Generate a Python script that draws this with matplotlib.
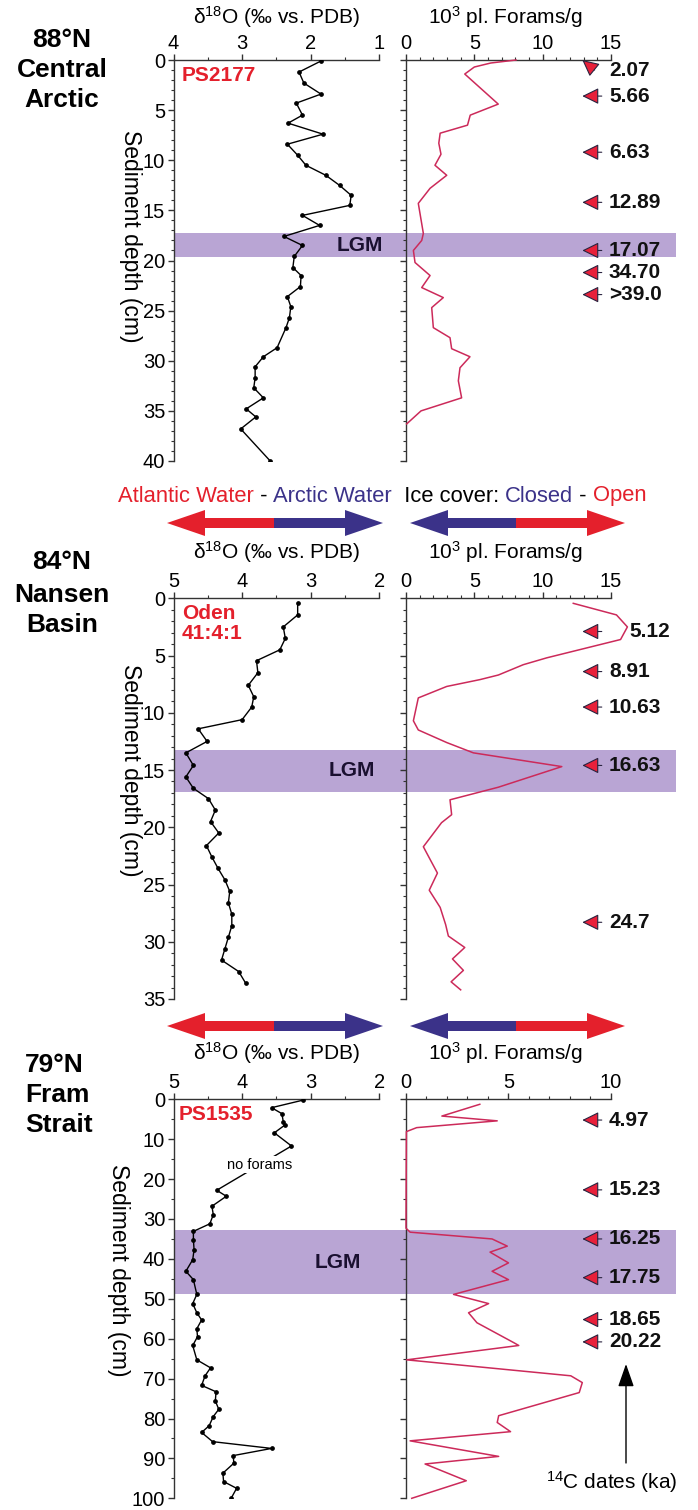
import numpy as np
import matplotlib.pyplot as plt
import matplotlib.transforms as mtransforms
from matplotlib.patches import Polygon, Rectangle
from matplotlib.ticker import MultipleLocator

plt.rcParams['font.family'] = ['Liberation Sans', 'DejaVu Sans']
plt.rcParams['mathtext.fontset'] = 'custom'
plt.rcParams['mathtext.rm'] = 'Liberation Sans'
plt.rcParams['mathtext.it'] = 'Liberation Sans:italic'
plt.rcParams['mathtext.bf'] = 'Liberation Sans:bold'

W, H = 698, 1510

# --- PS2177, 88N Central Arctic ---
ps2177_d18o_depth = [0.1, 1.2, 2.3, 3.4, 4.3, 5.5, 6.3, 7.4, 8.4, 9.5, 10.5, 11.5, 12.5, 13.5, 14.5,
                     15.5, 16.5, 17.6, 18.5, 19.6, 20.7, 21.5, 22.6, 23.6, 24.6, 25.7, 26.7, 28.7,
                     29.6, 30.6, 31.7, 32.7, 33.7, 34.8, 35.6, 36.8, 40.0]
ps2177_d18o = [1.85, 2.17, 2.10, 1.85, 2.21, 2.12, 2.33, 1.82, 2.34, 2.19, 2.07, 1.78, 1.58, 1.41, 1.43,
               2.12, 1.87, 2.39, 2.12, 2.24, 2.26, 2.14, 2.15, 2.34, 2.29, 2.31, 2.36, 2.49,
               2.69, 2.81, 2.81, 2.83, 2.69, 2.94, 2.80, 3.02, 2.59]
ps2177_foram_depth = [0.0, 0.3, 0.7, 1.4, 4.4, 5.5, 6.5, 7.3, 8.3, 9.4, 10.5, 11.5, 12.8, 14.3, 17.3,
                      18.0, 19.0, 20.2, 21.5, 22.7, 23.7, 24.7, 26.7, 27.7, 28.8, 29.6, 30.7, 32.0,
                      33.7, 35.0, 36.3]
ps2177_forams = [8.05, 6.2, 5.0, 4.3, 6.75, 4.7, 4.5, 2.5, 2.4, 2.56, 2.12, 2.98, 1.76, 0.9, 1.27,
                 1.15, 0.54, 0.66, 1.76, 1.15, 2.73, 1.88, 2.0, 3.22, 3.34, 4.68, 3.95, 3.83,
                 4.07, 1.1, 0.05]
ps2177_dates = ['2.07', '5.66', '6.63', '12.89', '17.07', '34.70', '>39.0']
ps2177_date_depth = [0.0, 3.6, 9.2, 14.2, 19.0, 21.2, 23.4]
ps2177_label_depth = [1.0, 3.6, 9.2, 14.2, 19.0, 21.2, 23.4]
ps2177_lgm = (17.3, 19.7)

# --- Oden 41:4:1, 84N Nansen Basin ---
oden_d18o_depth = [0.4, 1.45, 2.5, 3.5, 4.5, 5.45, 6.5, 7.6, 8.6, 9.5, 10.6, 11.4, 12.5, 13.5, 14.6,
                   15.6, 16.6, 17.5, 18.5, 19.5, 20.5, 21.6, 22.6, 23.6, 24.6, 25.6, 26.6, 27.6,
                   28.6, 29.6, 30.6, 31.6, 32.6, 33.6]
oden_d18o = [3.19, 3.19, 3.40, 3.37, 3.45, 3.79, 3.77, 3.91, 3.83, 3.86, 4.00, 4.64, 4.51, 4.82, 4.71,
             4.82, 4.71, 4.49, 4.39, 4.46, 4.34, 4.52, 4.44, 4.35, 4.25, 4.18, 4.20, 4.15,
             4.15, 4.20, 4.25, 4.30, 4.05, 3.95]
oden_foram_depth = [0.44, 1.45, 2.5, 3.6, 4.4, 5.2, 5.8, 6.7, 7.1, 7.7, 8.7, 10.7, 11.5, 12.6, 13.5,
                    14.7, 16.5, 17.6, 18.9, 19.6, 21.7, 22.8, 24.0, 25.5, 27.0, 28.5, 29.5, 30.5,
                    31.5, 32.5, 33.5, 34.2]
oden_forams = [12.24, 15.4, 16.2, 15.7, 13.0, 10.3, 8.58, 6.76, 5.42, 2.98, 0.9, 0.54, 0.9, 2.98, 4.93,
               11.4, 6.76, 3.22, 3.34, 2.6, 1.27, 1.76, 2.3, 1.7, 2.5, 2.9, 3.1, 4.3,
               3.4, 4.2, 3.3, 4.0]
oden_dates = ['5.12', '8.91', '10.63', '16.63', '24.7']
oden_date_depth = [2.9, 6.4, 9.5, 14.6, 28.3]
oden_lgm = (13.25, 16.9)

# --- PS1535, 79N Fram Strait ---
ps1535_d18o_depth = [0.2, 2.1, 3.6, 5.6, 6.5, 8.4, 11.7, 22.8, 24.3, 26.8, 28.9, 31.2, 33.1, 35.2,
                     37.7, 40.2, 43.1, 45.2, 48.9, 51.2, 53.5, 55.3, 57.5, 59.5, 61.7, 65.3, 67.3,
                     69.3, 71.7, 73.3, 75.6, 77.7, 79.5, 81.8, 83.5, 85.8, 87.5, 89.3, 91.2, 93.7,
                     95.8, 97.5, 100.0]
ps1535_d18o = [3.11, 3.57, 3.42, 3.40, 3.38, 3.53, 3.28, 4.37, 4.23, 4.44, 4.42, 4.47, 4.71, 4.71,
               4.70, 4.72, 4.82, 4.71, 4.66, 4.72, 4.66, 4.59, 4.66, 4.65, 4.72, 4.66, 4.46,
               4.54, 4.59, 4.38, 4.39, 4.34, 4.42, 4.48, 4.59, 4.43, 3.57, 4.13, 4.12, 4.28,
               4.27, 4.08, 4.16]
ps1535_foram_depth = [1.25, 4.2, 5.4, 7.1, 8.1, 32.3, 33.3, 35.0, 36.8, 38.3, 41.0, 43.1, 45.2, 48.9,
                      51.2, 53.5, 56.0, 61.0, 61.7, 65.3, 69.3, 71.0, 73.5, 79.3, 81.0, 83.3, 85.6,
                      89.5, 91.4, 95.6, 100.0]
ps1535_forams = [3.6, 1.75, 4.45, 0.52, 0.02, 0.0, 0.2, 4.2, 4.94, 4.1, 5.0, 4.2, 5.0, 2.32,
                 4.03, 3.05, 3.46, 5.26, 5.5, 0.03, 8.04, 8.6, 8.45, 4.52, 4.45, 5.1, 0.2,
                 4.52, 0.93, 2.94, 0.28]
ps1535_dates = ['4.97', '15.23', '16.25', '17.75', '18.65', '20.22']
ps1535_date_depth = [5.2, 22.7, 35.0, 44.7, 55.2, 60.8]
ps1535_lgm = (32.7, 48.9)

RED = '#e4202c'
BLUE = '#3b3289'
FORAM = '#cc2a5a'
LGM_COLOR = '#b9a5d4'

fig = plt.figure(figsize=(W / 100, H / 100), dpi=100)

# overlay in pixel coordinates for the decorations
ov = fig.add_axes([0, 0, 1, 1])
ov.set_xlim(0, W)
ov.set_ylim(H, 0)
ov.axis('off')


def px_axes(x0, y0, x1, y1):
    return fig.add_axes([x0 / W, 1 - y1 / H, (x1 - x0) / W, (y1 - y0) / H])


def style_axes(ax, xmaj, xmin, ymaj, ymin, ylabels=True):
    ax.set_facecolor('none')
    for s in ['right', 'bottom']:
        ax.spines[s].set_visible(False)
    for s in ['top', 'left']:
        ax.spines[s].set_linewidth(1.0)
        ax.spines[s].set_color('#333333')
    ax.xaxis.set_ticks_position('top')
    ax.xaxis.set_major_locator(MultipleLocator(xmaj))
    ax.xaxis.set_minor_locator(MultipleLocator(xmin))
    ax.yaxis.set_major_locator(MultipleLocator(ymaj))
    ax.yaxis.set_minor_locator(MultipleLocator(ymin))
    ax.tick_params(which='major', direction='out', length=4, width=1, labelsize=14.5,
                   color='#333333', pad=1)
    ax.tick_params(which='minor', direction='out', length=2.5, width=0.8, color='#333333')
    ax.tick_params(axis='y', labelleft=ylabels, pad=2)


def panel(y0, y1, d_depth, d_vals, f_depth, f_vals, dlim, flim, ymax, ymaj, ymin,
          dates, date_depth, label_depth, lgm, lgm_x, core, core_xy):
    axl = px_axes(173.5, y0, 379.3, y1)
    axl.set_xlim(*dlim)
    axl.set_ylim(ymax, 0)
    style_axes(axl, 1, 0.5, ymaj, ymin)
    axl.plot(d_vals, d_depth, color='black', lw=1.0, marker='o', ms=2.4, zorder=3)

    trans_l = mtransforms.blended_transform_factory(axl.transAxes, axl.transData)
    band_w = (676 - 173.5) / (379.3 - 173.5)
    axl.add_patch(Rectangle((0, lgm[0]), band_w, lgm[1] - lgm[0], transform=trans_l,
                            facecolor=LGM_COLOR, edgecolor='none', clip_on=False, zorder=0.5))
    axl.text(lgm_x, (lgm[0] + lgm[1]) / 2, 'LGM', transform=trans_l, ha='center', va='center',
             fontsize=15, fontweight='bold', color='#1a1030', zorder=4)
    axl.text(core_xy[0], core_xy[1], core, transform=axl.transAxes, ha='left', va='top',
             fontsize=15, fontweight='bold', color=RED, linespacing=1.05)

    axr = px_axes(406, y0, 611, y1)
    axr.set_xlim(*flim)
    axr.set_ylim(ymax, 0)
    style_axes(axr, 5, 1, ymaj, ymin, ylabels=False)
    axr.plot(f_vals, f_depth, color=FORAM, lw=1.1, zorder=3, clip_on=False)

    trans_r = mtransforms.blended_transform_factory(axr.transAxes, axr.transData)
    for i, lab in enumerate(dates):
        dd = date_depth[i]
        ld = label_depth[i]
        tail_x = 0.955 if ld == dd else 0.92
        axr.annotate('', xy=(0.86, dd), xycoords=trans_r, xytext=(tail_x, ld),
                     textcoords=trans_r, annotation_clip=False,
                     arrowprops=dict(arrowstyle='-|>,head_length=0.85,head_width=0.42',
                                     fc='#e8203a', ec='#2a2440', lw=0.8,
                                     shrinkA=0, shrinkB=0, mutation_scale=12))
        tx = 0.99
        if lab == '5.12':
            tx = 1.09
        axr.text(tx, ld, lab, transform=trans_r, ha='left', va='center', fontsize=15,
                 fontweight='bold', color='#111111', clip_on=False)
    return axl, axr


def two_color_arrow(x_left, x_split, x_right, y, c_left, c_right):
    hl, hw, sw = 38, 13, 5
    for tip, col in [(x_left, c_left), (x_right, c_right)]:
        s = 1 if x_split > tip else -1
        xb = tip + s * hl
        pts = [(tip, y), (xb, y - hw), (xb, y - sw), (x_split, y - sw), (x_split, y + sw),
               (xb, y + sw), (xb, y + hw)]
        ov.add_patch(Polygon(pts, closed=True, facecolor=col, edgecolor='none'))


d18o_title = 'δ$^{18}$O (‰ vs. PDB)'
foram_title = '10$^3$ pl. Forams/g'

# top panel
panel(60, 461, ps2177_d18o_depth, ps2177_d18o, ps2177_foram_depth, ps2177_forams,
      (4, 1), (0, 15), 40, 5, 1, ps2177_dates, ps2177_date_depth, ps2177_label_depth,
      ps2177_lgm, 0.905, 'PS2177', (0.04, 0.985))
# middle panel
panel(598.3, 999, oden_d18o_depth, oden_d18o, oden_foram_depth, oden_forams,
      (5, 2), (0, 15), 35, 5, 1, oden_dates, oden_date_depth, oden_date_depth,
      oden_lgm, 0.865, 'Oden\n41:4:1', (0.04, 0.985))
# bottom panel
panel(1099.3, 1498.3, ps1535_d18o_depth, ps1535_d18o, ps1535_foram_depth, ps1535_forams,
      (5, 2), (0, 10), 100, 10, 5, ps1535_dates, ps1535_date_depth, ps1535_date_depth,
      ps1535_lgm, 0.8, 'PS1535', (0.025, 0.985))

# axis titles
for ty in [17, 552, 1053]:
    ov.text(277, ty, d18o_title, ha='center', va='center', fontsize=15)
    ov.text(505, ty, foram_title, ha='center', va='center', fontsize=15)

# depth labels
for lx, ly in [(130, 236), (130, 770), (118, 1270)]:
    ov.text(lx, ly, 'Sediment depth (cm)', rotation=270, ha='center', va='center', fontsize=16.5)

# station names
stations = [(['88°N', 'Central', 'Arctic'], 62, [40, 70, 100], 'center'),
            (['84°N', 'Nansen', 'Basin'], 62, [562, 595, 625], 'center'),
            (['79°N', 'Fram', 'Strait'], 25, [1065, 1095, 1125], 'left')]
for lines, sx, ys, ha in stations:
    for txt, sy in zip(lines, ys):
        ov.text(sx, sy, txt, ha=ha, va='center', fontsize=19, fontweight='bold')

# direction arrows and legend text
two_color_arrow(167, 274, 383, 523, RED, BLUE)
two_color_arrow(410, 516, 625, 523, BLUE, RED)
two_color_arrow(167, 274, 383, 1026, RED, BLUE)
two_color_arrow(410, 516, 625, 1026, BLUE, RED)

t = ov.text(118, 496, 'Atlantic Water', color=RED, fontsize=15.8, ha='left', va='center')
pieces = [(' - ', 'black'), ('Arctic Water', BLUE), ('  Ice cover: ', 'black'),
          ('Closed', BLUE), (' - ', 'black'), ('Open', RED)]
for txt, col in pieces:
    t = ov.annotate(txt, xy=(1, 0.5), xycoords=t, ha='left', va='center', color=col,
                    fontsize=15.8)

# no forams note and 14C dates pointer
ax_bl = fig.axes[5]
ax_bl.text(3.74, 16.4, 'no forams', ha='center', va='center', fontsize=10.5, zorder=5,
           bbox=dict(facecolor='white', edgecolor='none', pad=1.0))
ov.annotate('', xy=(626, 1364), xytext=(626, 1463),
            arrowprops=dict(arrowstyle='-|>,head_length=1.0,head_width=0.35', color='black',
                            lw=1.0, shrinkA=0, shrinkB=0, mutation_scale=14))
ov.text(612, 1482, '$^{14}$C dates (ka)', ha='center', va='center', fontsize=15)

fig.savefig('out.png', dpi=100)
